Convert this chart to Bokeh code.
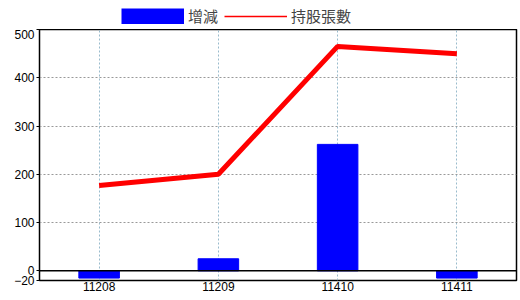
from bokeh.plotting import figure
from bokeh.layouts import column
from bokeh.models import FactorRange, FixedTicker, Legend, LegendItem, Span, ColumnDataSource, Range1d
from bokeh.embed import file_html
from bokeh.resources import INLINE

months = ["11208", "11209", "11410", "11411"]
change = [-15, 25, 262, -15]
holdings = [177, 200, 465, 450]
y_ticks = [-20, 0, 100, 200, 300, 400, 500]
series_names = ["增減", "持股張數"]

src = ColumnDataSource(dict(x=months, change=change, holdings=holdings))

p = figure(width=520, height=271, x_range=FactorRange(*months, range_padding=0),
           y_range=Range1d(-20, 500), output_backend="svg", toolbar_location=None,
           min_border_left=39, min_border_right=4, min_border_bottom=20, min_border_top=0)

bars = p.vbar(x="x", top="change", bottom=0, width=0.34, source=src,
              fill_color="#0000ff", line_color="#0000ff")
line = p.line(x="x", y="holdings", source=src, line_color="#ff0000", line_width=5)

p.add_layout(Span(location=0, dimension="width", line_color="black", line_width=1.5))

p.outline_line_color = "black"
p.outline_line_width = 1.5

p.yaxis.ticker = FixedTicker(ticks=y_ticks)
p.ygrid.ticker = FixedTicker(ticks=[100, 200, 300, 400])
p.ygrid.grid_line_color = "#999999"
p.ygrid.grid_line_dash = "2 2"
p.xgrid.grid_line_color = "#99bbcc"
p.xgrid.grid_line_dash = "2 2"

for ax in (p.xaxis, p.yaxis):
    ax.axis_line_color = "black"
    ax.major_tick_line_color = "black"
    ax.minor_tick_line_color = None
    ax.major_label_text_font = "Liberation Sans"
    ax.major_label_text_font_size = "12px"
    ax.major_label_text_color = "black"
p.yaxis.major_tick_out = 3
p.yaxis.major_tick_in = 0
p.yaxis.major_label_standoff = 2
p.xaxis.major_tick_out = 0
p.xaxis.major_tick_in = 0
p.xaxis.major_label_standoff = 1
p.xaxis.axis_line_color = None

# legend strip above the chart
lg = figure(width=520, height=29, x_range=Range1d(0, 1), y_range=Range1d(0, 1),
            output_backend="svg", toolbar_location=None, x_axis_type=None, y_axis_type=None,
            min_border=0, outline_line_color=None)
lg.grid.visible = False
nan_src = ColumnDataSource(dict(x=[0.5], y=[float("nan")]))
lb = lg.line(x="x", y="y", source=nan_src, line_color="#0000ff", line_width=16, line_cap="butt")
ll = lg.line(x="x", y="y", source=nan_src, line_color="#ff0000", line_width=1.5)

legend = Legend(items=[LegendItem(label=series_names[0], renderers=[lb]),
                       LegendItem(label=series_names[1], renderers=[ll])],
                orientation="horizontal", location=(82, 3),
                glyph_width=63, glyph_height=16, label_text_font="Noto Sans CJK TC",
                label_text_font_size="15px", label_standoff=4, spacing=6,
                padding=0, margin=0, border_line_color=None, background_fill_alpha=0)
lg.add_layout(legend)

layout = column(lg, p, spacing=0)
open("out.html", "w").write(file_html(layout, INLINE))
